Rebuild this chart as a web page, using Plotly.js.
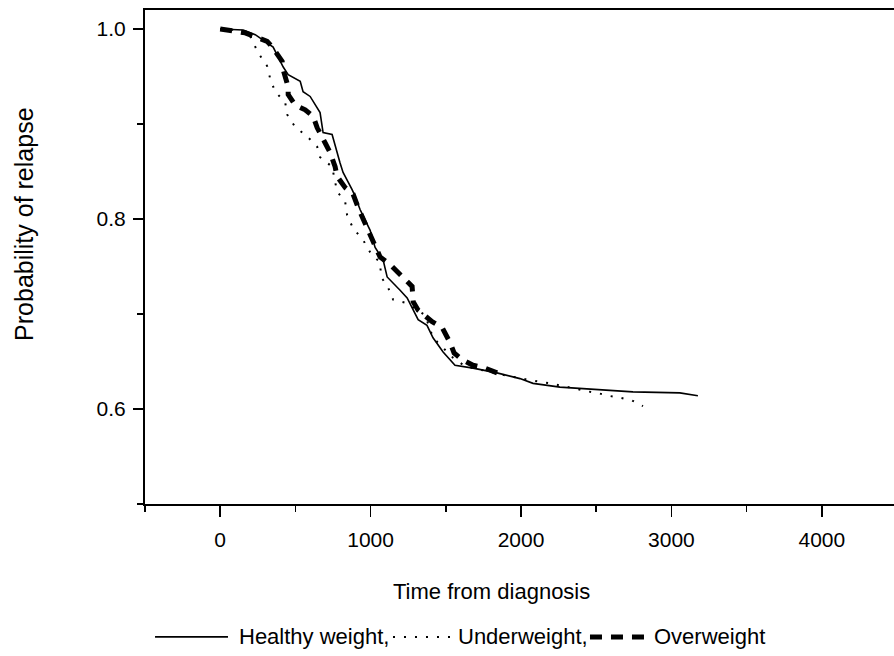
<!DOCTYPE html>
<html>
<head>
<meta charset="utf-8">
<script src="https://cdn.plot.ly/plotly-3.0.1.min.js"></script>
<style>html,body{margin:0;padding:0;background:#fff;overflow:hidden}#chart{width:894px;height:656px}</style>
</head>
<body>
<div id="chart"></div>
<script>
// Healthy weight (solid)
const healthyX = [0,153,233,352,419,452,532,551,598,664,684,744,797,817,877,897,930,963,997,1030,1083,1110,1163,1196,1243,1296,1316,1375,1415,1482,1561,1681,1748,1840,1993,2080,2259,2525,2744,3056,3176];
const healthyY = [1.0,0.999,0.994,0.981,0.960,0.952,0.945,0.934,0.929,0.912,0.891,0.889,0.859,0.849,0.831,0.824,0.810,0.799,0.788,0.770,0.757,0.739,0.731,0.725,0.717,0.701,0.694,0.688,0.675,0.660,0.646,0.643,0.641,0.638,0.632,0.627,0.623,0.620,0.618,0.617,0.614];
// Underweight (dotted)
const underX = [0,100,186,252,312,332,365,432,445,498,578,645,664,744,777,831,844,884,950,997,1063,1070,1116,1150,1229,1296,1362,1415,1508,1548,1628,1760,1880,2040,2193,2346,2425,2505,2578,2658,2738,2811];
const underY = [1.0,0.999,0.997,0.975,0.961,0.948,0.934,0.923,0.910,0.897,0.887,0.876,0.865,0.855,0.829,0.818,0.804,0.790,0.778,0.765,0.754,0.739,0.728,0.715,0.712,0.705,0.699,0.675,0.660,0.654,0.645,0.640,0.636,0.631,0.627,0.622,0.619,0.617,0.614,0.612,0.609,0.603];
// Overweight (thick dashed)
const overX = [0,166,312,346,412,419,452,452,498,565,618,645,698,731,764,777,831,884,917,944,997,1017,1063,1130,1216,1276,1283,1316,1409,1475,1528,1555,1608,1681,1761,1841];
const overY = [1.0,0.996,0.987,0.981,0.966,0.957,0.939,0.931,0.920,0.915,0.908,0.896,0.880,0.870,0.855,0.845,0.833,0.826,0.812,0.802,0.785,0.776,0.760,0.752,0.739,0.729,0.713,0.704,0.692,0.686,0.670,0.659,0.652,0.646,0.643,0.638];

const seriesNames = ["Healthy weight,", "Underweight,", "Overweight"];
const xTitle = "Time from diagnosis";
const yTitle = "Probability of relapse";

const FONT = "Liberation Sans, Arial, sans-serif";

const traces = [
  {x: healthyX, y: healthyY, mode: "lines", line: {color: "#000", width: 1.6}, name: seriesNames[0], showlegend: false},
  {x: underX, y: underY, mode: "lines", line: {color: "#000", width: 2, dash: "2px,9px"}, name: seriesNames[1], showlegend: false},
  {x: overX, y: overY, mode: "lines", line: {color: "#000", width: 5, dash: "12px,9px"}, name: seriesNames[2], showlegend: false}
];

const legY = -0.269;
const legFont = {family: FONT, size: 22, color: "#000"};
const layout = {
  width: 894, height: 656,
  margin: {l: 145, r: 0, t: 10, b: 152},
  paper_bgcolor: "#fff", plot_bgcolor: "#fff",
  font: {family: FONT, size: 21, color: "#000"},
  showlegend: false,
  xaxis: {
    range: [-500, 4480], showgrid: false, zeroline: false,
    showline: true, linecolor: "#000", linewidth: 2, mirror: true,
    ticks: "outside", ticklen: 11, tickwidth: 1.5, tickcolor: "#000",
    dtick: 1000, tick0: 0, ticklabelstandoff: 5,
    minor: {dtick: 500, tick0: 0, ticks: "outside", ticklen: 6, tickwidth: 1.5, tickcolor: "#000"},
    tickfont: {family: FONT, size: 21, color: "#000"}
  },
  yaxis: {
    range: [0.5, 1.02], showgrid: false, zeroline: false,
    showline: true, linecolor: "#000", linewidth: 2, mirror: false,
    ticks: "outside", ticklen: 10, tickwidth: 1.5, tickcolor: "#000",
    dtick: 0.2, tick0: 0, tickformat: ".1f", ticklabelstandoff: 3,
    minor: {dtick: 0.1, tick0: 0, ticks: "outside", ticklen: 6, tickwidth: 1.5, tickcolor: "#000"},
    tickfont: {family: FONT, size: 21, color: "#000"}
  },
  annotations: [
    {text: xTitle, xref: "paper", yref: "paper", x: 0.462, y: -0.178, xanchor: "center", yanchor: "middle", showarrow: false, font: {family: FONT, size: 22, color: "#000"}},
    {text: yTitle, xref: "paper", yref: "paper", x: -0.1615, y: 0.565, xanchor: "center", yanchor: "middle", textangle: -90, showarrow: false, font: {family: FONT, size: 25, color: "#000"}},
    {text: seriesNames[0], xref: "paper", yref: "paper", x: 0.1228, y: legY, xanchor: "left", yanchor: "middle", showarrow: false, font: legFont},
    {text: seriesNames[1], xref: "paper", yref: "paper", x: 0.4152, y: legY, xanchor: "left", yanchor: "middle", showarrow: false, font: legFont},
    {text: seriesNames[2], xref: "paper", yref: "paper", x: 0.6769, y: legY, xanchor: "left", yanchor: "middle", showarrow: false, font: legFont}
  ],
  shapes: [
    {type: "line", xref: "paper", yref: "paper", x0: 0.0134, x1: 0.1108, y0: legY, y1: legY, line: {color: "#000", width: 1.6}},
    {type: "line", xref: "paper", yref: "paper", x0: 0.3311, x1: 0.4099, y0: legY, y1: legY, line: {color: "#000", width: 2, dash: "2px,9px"}},
    {type: "line", xref: "paper", yref: "paper", x0: 0.5941, x1: 0.6662, y0: legY, y1: legY, line: {color: "#000", width: 5, dash: "12px,9px"}}
  ]
};

Plotly.newPlot("chart", traces, layout, {staticPlot: true, displayModeBar: false});
</script>
</body>
</html>
